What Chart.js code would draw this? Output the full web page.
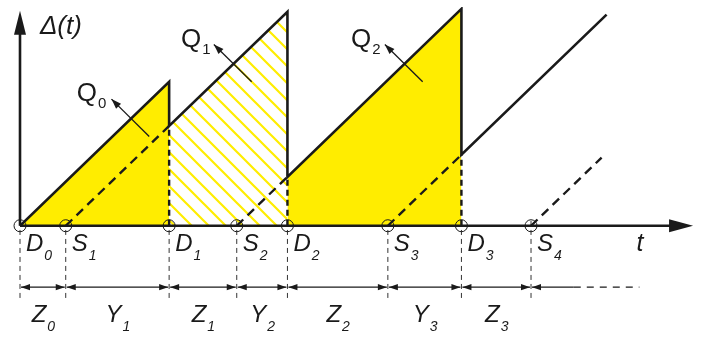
<!DOCTYPE html>
<html>
<head>
<meta charset="utf-8">
<script src="https://cdn.jsdelivr.net/npm/chart.js@4.4.1/dist/chart.umd.min.js"></script>
<style>
  html, body { margin: 0; padding: 0; background: #fff; }
  #wrap { width: 713px; height: 345px; }
</style>
</head>
<body>
<div id="wrap"><canvas id="aoi"></canvas></div>
<script>
// event times on the t axis (D = delivery, S = sample)
const eventTimes = [0, 46, 150, 218, 269, 370, 444, 514];
const eventNames = ['D', 'S', 'D', 'S', 'D', 'S', 'D', 'S'];
const eventSubs = ['0', '1', '1', '2', '2', '3', '3', '4'];

// interval labels between consecutive events
const gapNames = ['Z', 'Y', 'Z', 'Y', 'Z', 'Y', 'Z'];
const gapSubs = ['0', '1', '1', '2', '2', '3', '3'];

// age curve Δ(t)
const ageT = [0, 150, 150, 269, 269, 444, 444, 590];
const ageV = [0, 150, 104, 223, 51, 226, 74, 220];

// dashed age of each sample, from S_i up to the next delivery
const sampleT0 = [46, 218, 370, 514];
const sampleT1 = [150, 269, 444, 585];
const sampleV1 = [104, 51, 74, 71];

// the three areas Q0, Q1, Q2
const q0T = [0, 150, 150];
const q0V = [0, 150, 0];
const q1T = [150, 150, 269, 269];
const q1V = [0, 104, 223, 0];
const q2T = [269, 269, 444, 444];
const q2V = [0, 51, 226, 0];

// Q labels and their pointer arrows
const qSubs = ['0', '1', '2'];
const qLabelT = [57, 162, 333];
const qLabelV = [130, 186, 186];
const qArrowFromT = [130, 233, 405];
const qArrowFromV = [93, 150, 150];
const qArrowToT = [92, 195, 367];
const qArrowToV = [132, 189, 189];

// axis extents and the open tail of the last interval
const tAxisEnd = 677;
const ageAxisEnd = 224;
const tailSolidEnd = 557;
const tailDashEnd = 623;

const YELLOW = '#ffed00';
const INK = '#1a1a1a';
const FONT = '"Liberation Sans", Arial, Helvetica, sans-serif';

function pts(ts, vs) {
    return ts.map((t, i) => ({ x: t, y: vs[i] }));
}

function hatchPattern(ctx) {
    const s = 17;
    const c = document.createElement('canvas');
    c.width = s;
    c.height = s;
    const g = c.getContext('2d');
    g.strokeStyle = YELLOW;
    g.lineWidth = 2.2;
    g.beginPath();
    [-s, 0, s].forEach(dx => {
        g.moveTo(dx - 1, -1);
        g.lineTo(dx + s + 1, s + 1);
    });
    g.stroke();
    return ctx.createPattern(c, 'repeat');
}

function arrowHead(ctx, x0, y0, x1, y1, len, half) {
    const a = Math.atan2(y1 - y0, x1 - x0);
    ctx.beginPath();
    ctx.moveTo(x1, y1);
    ctx.lineTo(x1 - len * Math.cos(a) + half * Math.sin(a), y1 - len * Math.sin(a) - half * Math.cos(a));
    ctx.lineTo(x1 - len * Math.cos(a) - half * Math.sin(a), y1 - len * Math.sin(a) + half * Math.cos(a));
    ctx.closePath();
    ctx.fill();
}

function subLabel(ctx, x, y, main, sub, size, subSize, subDy, opt) {
    const style = opt.italic ? 'italic ' : '';
    ctx.font = style + size + 'px ' + FONT;
    const w1 = ctx.measureText(main).width;
    ctx.font = style + subSize + 'px ' + FONT;
    const w2 = ctx.measureText(sub).width;
    const left = opt.center ? x - (w1 + w2) / 2 : x;
    ctx.textAlign = 'left';
    ctx.textBaseline = 'alphabetic';
    ctx.font = style + size + 'px ' + FONT;
    ctx.fillText(main, left, y);
    ctx.font = style + subSize + 'px ' + FONT;
    ctx.fillText(sub, left + w1 + (opt.gap || 0), y + subDy);
}

const decorations = {
    id: 'decorations',
    beforeDatasetsDraw(chart) {
        const { ctx, scales: { x, y } } = chart;
        ctx.save();
        // thin dashed guides below each event
        ctx.strokeStyle = '#333';
        ctx.lineWidth = 1;
        ctx.setLineDash([5, 4]);
        eventTimes.forEach(t => {
            ctx.beginPath();
            ctx.moveTo(x.getPixelForValue(t), y.getPixelForValue(5));
            ctx.lineTo(x.getPixelForValue(t), y.getPixelForValue(-77));
            ctx.stroke();
        });
        ctx.restore();
    },
    afterDatasetsDraw(chart) {
        const { ctx, scales: { x, y } } = chart;
        const px = v => x.getPixelForValue(v);
        const py = v => y.getPixelForValue(v);
        ctx.save();
        ctx.fillStyle = INK;
        ctx.strokeStyle = INK;

        // axes with arrow heads
        ctx.lineWidth = 2.6;
        ctx.beginPath();
        ctx.moveTo(px(0), py(0));
        ctx.lineTo(px(tAxisEnd - 10), py(0));
        ctx.moveTo(px(0), py(0));
        ctx.lineTo(px(0), py(ageAxisEnd - 10));
        ctx.stroke();
        arrowHead(ctx, px(0), py(0), px(tAxisEnd), py(0), 24, 6.5);
        arrowHead(ctx, px(0), py(0), px(0), py(ageAxisEnd), 24, 6);

        // interval dimension arrows
        ctx.lineWidth = 1.3;
        const rowY = py(-64);
        for (let i = 0; i < eventTimes.length - 1; i++) {
            const a = px(eventTimes[i]) + 1, b = px(eventTimes[i + 1]) - 1;
            ctx.beginPath();
            ctx.moveTo(a, rowY);
            ctx.lineTo(b, rowY);
            ctx.stroke();
            arrowHead(ctx, b, rowY, a, rowY, 9, 3.2);
            arrowHead(ctx, a, rowY, b, rowY, 9, 3.2);
        }
        const s4 = px(eventTimes[eventTimes.length - 1]) + 1;
        ctx.beginPath();
        ctx.moveTo(s4, rowY);
        ctx.lineTo(px(tailSolidEnd), rowY);
        ctx.stroke();
        arrowHead(ctx, px(tailSolidEnd), rowY, s4, rowY, 9, 3.2);
        ctx.setLineDash([7, 6]);
        ctx.beginPath();
        ctx.moveTo(px(tailSolidEnd), rowY);
        ctx.lineTo(px(tailDashEnd), rowY);
        ctx.stroke();
        ctx.setLineDash([]);

        // Q pointer arrows and labels
        ctx.lineWidth = 1.3;
        qSubs.forEach((s, i) => {
            const x0 = px(qArrowFromT[i]), y0 = py(qArrowFromV[i]);
            const x1 = px(qArrowToT[i]), y1 = py(qArrowToV[i]);
            ctx.beginPath();
            ctx.moveTo(x0, y0);
            ctx.lineTo(x1, y1);
            ctx.stroke();
            arrowHead(ctx, x0, y0, x1, y1, 10, 3.5);
            subLabel(ctx, px(qLabelT[i]), py(qLabelV[i]), 'Q', s, 26, 15, 7, { gap: 1 });
        });

        // event labels
        eventTimes.forEach((t, i) => {
            subLabel(ctx, px(t) + 6, py(-26), eventNames[i], eventSubs[i], 24, 14, 9, { italic: true, gap: 1 });
        });

        // interval labels
        gapNames.forEach((n, i) => {
            const mid = (eventTimes[i] + eventTimes[i + 1]) / 2;
            subLabel(ctx, px(mid), py(-100), n, gapSubs[i], 24, 14, 9, { italic: true, center: true, gap: 1 });
        });

        // axis titles
        ctx.font = 'italic 26px ' + FONT;
        ctx.textAlign = 'left';
        ctx.fillText('Δ(t)', px(20), py(200));
        ctx.font = 'italic 25px ' + FONT;
        ctx.fillText('t', px(620), py(-26));
        ctx.restore();
    }
};

const canvas = document.getElementById('aoi');
const ctx2d = canvas.getContext('2d');

new Chart(ctx2d, {
    type: 'line',
    data: {
        datasets: [
            {
                data: pts(ageT, ageV),
                borderColor: INK,
                borderWidth: 2.6,
                pointRadius: 0,
                fill: false,
                order: 1
            },
            ...sampleT0.map((t, i) => ({
                data: pts([t, sampleT1[i]], [0, sampleV1[i]]),
                borderColor: INK,
                borderWidth: 2.4,
                borderDash: [9, 6],
                pointRadius: 0,
                fill: false,
                order: 2
            })),
            ...sampleT1.slice(0, 3).map((t, i) => ({
                data: pts([t, t], [0, sampleV1[i]]),
                borderColor: INK,
                borderWidth: 2.4,
                borderDash: [6, 4],
                pointRadius: 0,
                fill: false,
                order: 2
            })),
            {
                data: pts(q0T, q0V),
                borderWidth: 0,
                pointRadius: 0,
                backgroundColor: YELLOW,
                fill: 'origin',
                order: 4
            },
            {
                data: pts(q1T, q1V),
                borderWidth: 0,
                pointRadius: 0,
                backgroundColor: hatchPattern(ctx2d),
                fill: 'origin',
                order: 4
            },
            {
                data: pts(q2T, q2V),
                borderWidth: 0,
                pointRadius: 0,
                backgroundColor: YELLOW,
                fill: 'origin',
                order: 4
            },
            {
                data: eventTimes.map(t => ({ x: t, y: 0 })),
                showLine: false,
                pointRadius: 6,
                pointBorderWidth: 1,
                pointBorderColor: INK,
                pointBackgroundColor: 'rgba(0,0,0,0)',
                clip: false,
                order: 0
            }
        ]
    },
    options: {
        responsive: true,
        maintainAspectRatio: false,
        animation: false,
        layout: { padding: { left: 20, right: 3, top: 0, bottom: 0 } },
        scales: {
            x: { type: 'linear', min: 0, max: 690, display: false },
            y: { type: 'linear', min: -117, max: 228, display: false }
        },
        plugins: {
            legend: { display: false },
            tooltip: { enabled: false }
        },
        elements: { line: { tension: 0 } }
    },
    plugins: [decorations]
});
</script>
</body>
</html>
